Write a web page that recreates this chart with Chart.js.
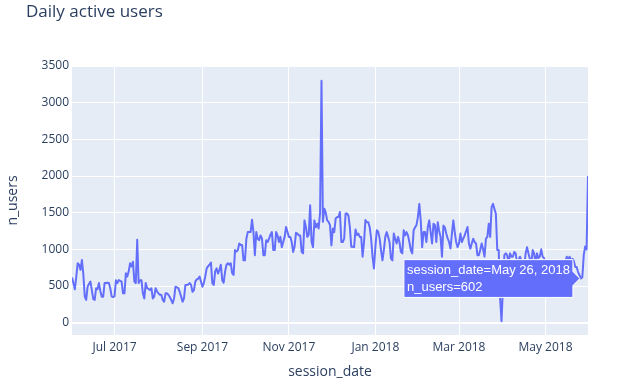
<!DOCTYPE html>
<html>
<head>
<meta charset="utf-8">
<title>Daily active users</title>
<script src="https://cdn.jsdelivr.net/npm/chart.js@4.4.1/dist/chart.umd.min.js"></script>
<style>
  html, body { margin: 0; padding: 0; background: #fff; }
  #wrap { width: 630px; height: 386px; }
</style>
</head>
<body>
<div id="wrap"><canvas id="dau" width="630" height="386"></canvas></div>
<script>
// n_users per day, 2017-06-01 .. 2018-05-31
const startDate = '2017-06-01';

const jun2017 = [615, 540, 455, 620, 810, 790, 720, 855, 660, 355, 310, 490, 530, 560, 445,
  320, 310, 470, 455, 540, 430, 355, 355, 540, 540, 545, 540, 470, 355, 350];
const jul2017 = [360, 580, 540, 580, 570, 560, 400, 400, 673, 630, 700, 810, 765, 830, 560,
  540, 1130, 540, 580, 580, 400, 330, 540, 470, 460, 445, 470, 330, 355, 470, 425];
const aug2017 = [400, 380, 380, 310, 285, 400, 400, 380, 350, 310, 265, 330, 490, 480, 470,
  420, 355, 285, 330, 515, 515, 520, 540, 515, 420, 445, 560, 590, 600, 630, 560];
const sep2017 = [490, 540, 630, 740, 770, 790, 820, 540, 515, 700, 740, 670, 720, 790, 580,
  545, 700, 790, 810, 790, 810, 675, 650, 990, 970, 990, 1080, 1060, 1060, 850];
const oct2017 = [850, 1145, 1235, 1235, 1235, 1405, 1235, 920, 1235, 1145, 1125, 1190, 1150, 920, 920,
  1125, 1100, 1145, 1200, 1235, 990, 990, 1235, 1190, 1100, 1170, 1030, 1100, 1170, 1305, 1235];
const nov2017 = [1170, 1170, 1100, 965, 1035, 1225, 1215, 1190, 1190, 965, 945, 1395, 1305, 1170, 1200,
  1600, 1100, 1030, 1395, 1300, 1350, 1285, 1500, 3300, 1375, 1555, 1500, 1395, 1375, 1330];
const dec2017 = [1055, 1285, 1235, 1420, 1440, 1440, 1510, 1100, 1100, 1145, 1490, 1490, 1460, 1305, 1035,
  1035, 1030, 1270, 1195, 1215, 1170, 1170, 900, 1100, 1400, 1370, 1370, 1300, 1150, 900, 740];
const jan2018 = [1030, 1260, 1240, 1150, 990, 850, 990, 1170, 1235, 1170, 1100, 875, 850, 1215, 1145,
  1080, 1170, 1100, 965, 945, 1260, 1190, 1235, 1190, 1100, 990, 945, 1260, 1300, 1330, 1440];
const feb2018 = [1620, 1395, 1030, 1235, 1235, 1100, 1305, 1395, 1235, 1080, 1350, 1330, 1100, 1370,
  1250, 1170, 900, 1325, 1300, 1215, 1150, 1100, 1010, 1215, 1395, 1235, 1100, 1030];
const mar2018 = [1080, 1215, 1100, 1145, 1190, 1250, 1305, 1080, 1010, 1080, 1145, 1100, 1080, 920, 920,
  995, 1080, 1000, 900, 1145, 1170, 1350, 1170, 1575, 1620, 1550, 1485, 990, 990, 330, 20];
const apr2018 = [480, 920, 945, 920, 805, 945, 900, 900, 965, 945, 805, 850, 900, 850, 805,
  760, 945, 1030, 945, 870, 805, 990, 945, 805, 945, 880, 900, 1000, 900, 880];
const may2018 = [820, 840, 800, 780, 680, 700, 830, 820, 800, 840, 780, 660, 700, 840, 830,
  900, 860, 900, 850, 870, 840, 760, 760, 690, 650, 602, 620, 920, 1040, 1000, 2000];

const tickDates = ['2017-07-01', '2017-09-01', '2017-11-01', '2018-01-01', '2018-03-01', '2018-05-01'];
const tickLabels = ['Jul 2017', 'Sep 2017', 'Nov 2017', 'Jan 2018', 'Mar 2018', 'May 2018'];
const yTicks = [0, 500, 1000, 1500, 2000, 2500, 3000, 3500];
const hoverDate = '2018-05-26';

const monthNames = ['Jan', 'Feb', 'Mar', 'Apr', 'May', 'Jun', 'Jul', 'Aug', 'Sep', 'Oct', 'Nov', 'Dec'];

const nUsers = [].concat(jun2017, jul2017, aug2017, sep2017, oct2017, nov2017,
  dec2017, jan2018, feb2018, mar2018, apr2018, may2018);

const DAY = 86400000;
const t0 = Date.parse(startDate);

function dayIndex(s) {
  return Math.round((Date.parse(s) - t0) / DAY);
}

function fmtDate(i) {
  const d = new Date(t0 + i * DAY);
  return monthNames[d.getUTCMonth()] + ' ' + d.getUTCDate() + ', ' + d.getUTCFullYear();
}

const FONT = '"Open Sans", verdana, arial, sans-serif';
const INK = '#2a3f5f';

// plot background (plotly style)
const plotBg = {
  id: 'plotBg',
  beforeDraw(chart) {
    const { ctx, chartArea: a } = chart;
    ctx.save();
    ctx.fillStyle = '#E5ECF6';
    ctx.fillRect(a.left, a.top, a.right - a.left, a.bottom - a.top);
    ctx.restore();
  }
};

// figure title, top left
const figTitle = {
  id: 'figTitle',
  afterDraw(chart) {
    const ctx = chart.ctx;
    ctx.save();
    ctx.font = '17px ' + FONT;
    ctx.fillStyle = INK;
    ctx.textBaseline = 'alphabetic';
    ctx.fillText('Daily active users', 26, 17);
    ctx.restore();
  }
};

const chart = new Chart(document.getElementById('dau'), {
  type: 'line',
  data: {
    datasets: [{
      data: nUsers.map((v, i) => ({ x: i, y: v })),
      borderColor: '#636efa',
      borderWidth: 2,
      borderJoinStyle: 'round',
      pointRadius: 0,
      pointHoverRadius: 0,
      pointHitRadius: 0,
      tension: 0,
      fill: false
    }]
  },
  options: {
    responsive: false,
    devicePixelRatio: 1,
    animation: false,
    events: [],
    layout: { padding: { top: 66, right: 42, bottom: 0, left: 0 } },
    plugins: {
      legend: { display: false },
      title: { display: false },
      tooltip: {
        enabled: true,
        animation: false,
        xAlign: 'right',
        yAlign: 'center',
        backgroundColor: '#636efa',
        borderColor: '#ffffff',
        borderWidth: 1,
        cornerRadius: 0,
        caretSize: 7,
        caretPadding: 1,
        displayColors: false,
        padding: { top: 2, bottom: 2, left: 3, right: 3 },
        bodyFont: { family: 'Arial, "Liberation Sans", sans-serif', size: 13, lineHeight: 1.3 },
        bodyColor: '#ffffff',
        bodySpacing: 0,
        callbacks: {
          title: () => [],
          label: c => ['session_date=' + fmtDate(c.parsed.x), 'n_users=' + c.parsed.y]
        }
      }
    },
    scales: {
      x: {
        type: 'linear',
        min: 0,
        max: nUsers.length - 1,
        afterBuildTicks: s => { s.ticks = tickDates.map(d => ({ value: dayIndex(d) })); },
        afterFit: s => { s.height = 51; },
        border: { display: false },
        grid: { color: '#ffffff', lineWidth: 1, drawTicks: false },
        ticks: {
          color: INK,
          font: { family: FONT, size: 12 },
          padding: 5,
          maxRotation: 0,
          autoSkip: false,
          callback: (v, i) => tickLabels[i]
        },
        title: {
          display: true,
          text: 'session_date',
          color: INK,
          font: { family: FONT, size: 14 },
          padding: { top: 4, bottom: 6 }
        }
      },
      y: {
        type: 'linear',
        min: -168,
        max: 3500,
        afterBuildTicks: s => { s.ticks = yTicks.map(v => ({ value: v })); },
        afterFit: s => { s.width = 72; },
        border: { display: false },
        grid: {
          color: '#ffffff',
          lineWidth: c => (c.tick && c.tick.value === 0 ? 2 : 1),
          drawTicks: false
        },
        ticks: {
          color: INK,
          font: { family: FONT, size: 12 },
          padding: 3,
          callback: v => String(v)
        },
        title: {
          display: true,
          text: 'n_users',
          color: INK,
          font: { family: FONT, size: 14 },
          padding: { top: 5 }
        }
      }
    }
  },
  plugins: [plotBg, figTitle]
});

// hover label on May 26, 2018
chart.tooltip.setActiveElements([{ datasetIndex: 0, index: dayIndex(hoverDate) }], { x: 0, y: 0 });
chart.update();
</script>
</body>
</html>
